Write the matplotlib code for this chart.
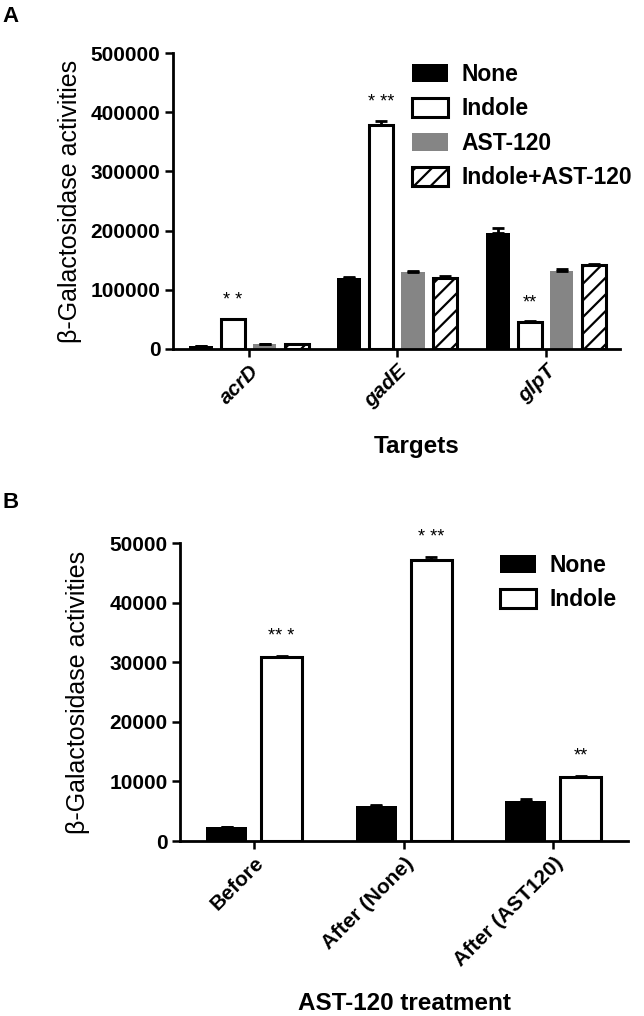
import matplotlib.pyplot as plt
import numpy as np

plt.rcParams['font.family'] = ['Liberation Sans', 'DejaVu Sans']
plt.rcParams['hatch.linewidth'] = 1.6

# Panel A: beta-galactosidase activity per target gene
targets = ['acrD', 'gadE', 'glpT']
a_none = [5000, 120000, 196000]
a_none_err = [500, 2000, 9000]
a_indole = [50000, 378000, 46000]
a_indole_err = [1500, 7000, 1000]
a_ast = [8000, 130000, 131000]
a_ast_err = [500, 2000, 4000]
a_both = [8000, 120000, 142000]
a_both_err = [500, 3000, 1500]
a_stars = ['* *', '* **', '**']

# Panel B: before / after AST-120 treatment
stages = ['Before', 'After (None)', 'After (AST120)']
b_none = [2300, 5900, 6800]
b_none_err = [100, 200, 200]
b_indole = [30800, 47100, 10700]
b_indole_err = [300, 600, 200]
b_stars = ['** *', '* **', '**']

styles = {
    'None': dict(facecolor='black', edgecolor='black', linewidth=0),
    'Indole': dict(facecolor='white', edgecolor='black', linewidth=2.2),
    'AST-120': dict(facecolor='#858585', edgecolor='#858585', linewidth=0),
    'Indole+AST-120': dict(facecolor='white', edgecolor='black', linewidth=2.2, hatch='//'),
}
ekw = dict(ecolor='black', elinewidth=2, capsize=4, capthick=2)

fig = plt.figure(figsize=(6.44, 10.16), dpi=100)
axA = fig.add_axes([0.2686, 0.6565, 0.694, 0.2913])
axB = fig.add_axes([0.2795, 0.1722, 0.6957, 0.2933])


def style_axes(ax):
    for s in ['top', 'right']:
        ax.spines[s].set_visible(False)
    for s in ['left', 'bottom']:
        ax.spines[s].set_linewidth(2)
    ax.tick_params(axis='both', width=1.8, length=6, pad=3, labelsize=15)
    for lab in ax.get_yticklabels():
        lab.set_fontweight('bold')


# ---- panel A ----
x = np.arange(len(targets))
w = 0.16
offs = [-0.323, -0.107, 0.107, 0.323]
seriesA = [('None', a_none, a_none_err), ('Indole', a_indole, a_indole_err),
           ('AST-120', a_ast, a_ast_err), ('Indole+AST-120', a_both, a_both_err)]
for (name, vals, err), off in zip(seriesA, offs):
    axA.bar(x + off, vals, w, label=name, yerr=[np.zeros(len(vals)), err],
            error_kw=ekw, **styles[name])
for i, s in enumerate(a_stars):
    axA.annotate(s, xy=(x[i] + offs[1], a_indole[i] + a_indole_err[i]), xytext=(0, 7),
                 textcoords='offset points', ha='center', va='bottom', fontsize=13)
axA.set_xlim(-0.51, 2.5)
axA.set_ylim(0, 500000)
axA.set_yticks([0, 100000, 200000, 300000, 400000, 500000])
axA.set_xticks(x)
axA.set_xticklabels(targets, rotation=45, ha='right', rotation_mode='anchor',
                    fontstyle='italic', fontweight='bold')
style_axes(axA)
axA.set_ylabel('β-Galactosidase activities', fontsize=18)
axA.yaxis.set_label_coords(-0.204, 0.5)
axA.set_xlabel('Targets', fontsize=17.5, fontweight='bold')
axA.xaxis.set_label_coords(0.546, -0.29)
axA.legend(loc='upper left', bbox_to_anchor=(412 / 644, 1 - 63 / 1016),
           bbox_transform=fig.transFigure, frameon=False, borderpad=0, borderaxespad=0,
           prop=dict(size=16.5, weight='bold'), handlelength=1.55, handleheight=0.85,
           handletextpad=0.6, labelspacing=0.5)

# ---- panel B ----
xb = np.arange(len(stages))
wb = 0.275
ob = [-0.184, 0.184]
axB.bar(xb + ob[0], b_none, wb, label='None', yerr=[np.zeros(3), b_none_err],
        error_kw=ekw, **styles['None'])
axB.bar(xb + ob[1], b_indole, wb, label='Indole', yerr=[np.zeros(3), b_indole_err],
        error_kw=ekw, **styles['Indole'])
for i, s in enumerate(b_stars):
    axB.annotate(s, xy=(xb[i] + ob[1], b_indole[i] + b_indole_err[i]), xytext=(0, 8),
                 textcoords='offset points', ha='center', va='bottom', fontsize=13)
axB.set_xlim(-0.495, 2.5)
axB.set_ylim(0, 50000)
axB.set_yticks([0, 10000, 20000, 30000, 40000, 50000])
axB.set_xticks(xb)
axB.set_xticklabels(stages, rotation=45, ha='right', rotation_mode='anchor',
                    fontweight='bold')
style_axes(axB)
axB.set_ylabel('β-Galactosidase activities', fontsize=18)
axB.yaxis.set_label_coords(-0.2, 0.5)
axB.set_xlabel('AST-120 treatment', fontsize=17.5, fontweight='bold')
axB.xaxis.set_label_coords(0.502, -0.505)
axB.legend(loc='upper left', bbox_to_anchor=(500 / 644, 1 - 554 / 1016),
           bbox_transform=fig.transFigure, frameon=False, borderpad=0, borderaxespad=0,
           prop=dict(size=16.5, weight='bold'), handlelength=1.55, handleheight=0.85,
           handletextpad=0.6, labelspacing=0.5)

fig.text(0.004, 0.994, 'A', fontsize=16, fontweight='bold', va='top')
fig.text(0.004, 1 - 492 / 1016, 'B', fontsize=16, fontweight='bold', va='top')

fig.savefig('out.png', dpi=100)
